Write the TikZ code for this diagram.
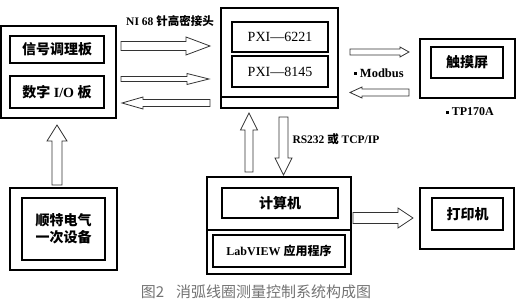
\documentclass[tikz,border=0pt]{standalone}
\usepackage{fontspec}
\setmainfont{Liberation Serif}
\newfontfamily\cjk{Noto Sans CJK SC}
\usetikzlibrary{calc}
\newcommand{\zh}[1]{{\cjk #1}}
\newcommand{\sqbul}{\rule[0.2em]{2.6pt}{2.6pt}}

\begin{document}
\begin{tikzpicture}[x=1pt, y=-1pt,
  box/.style 2 args={draw, line width=2pt, inner sep=0pt, outer sep=0pt,
    minimum width=#1pt, minimum height=#2pt},
  lbl/.style={font=\fontsize{14}{17}\selectfont\bfseries, align=center},
  pxil/.style={font=\fontsize{14}{17}\selectfont},
  small/.style={font=\fontsize{11.5}{13}\selectfont\bfseries},
  capt/.style={font=\fontsize{15}{17}\selectfont\cjk, text=black!55},
  blk/.style n args={3}{draw=black!80, line width=0.8pt, fill=white,
    to path={let \p1=(\tikztostart), \p2=(\tikztotarget),
      \n1={atan2(\y2-\y1,\x2-\x1)} in
      ($(\p1)+(\n1+90:#1)$) -- ($(\p2)+(\n1+180:#3)+(\n1+90:#1)$)
      -- ($(\p2)+(\n1+180:#3)+(\n1+90:#2)$) -- (\p2)
      -- ($(\p2)+(\n1+180:#3)+(\n1-90:#2)$)
      -- ($(\p2)+(\n1+180:#3)+(\n1-90:#1)$)
      -- ($(\p1)+(\n1-90:#1)$) -- cycle}}]
  \useasboundingbox (0,0) rectangle (521,306);

  % left: conditioning and I/O boards
  \node[box={115}{92}] (cond) at (58.5,72) {};
  \node[box={94}{27}, lbl] (sig) at (57,49.5) {\zh{信号调理板}};
  \node[box={94}{32}, lbl] (dio) at (57,92) {\zh{数字} I/O \zh{板}};

  % PXI chassis
  \node[box={117}{100}] (pxi) at (279.5,58) {};
  \node[box={96}{30}, pxil] (p6221) at (280,37) {PXI—6221};
  \node[box={96}{31}, pxil] (p8145) at (280,71.5) {PXI—8145};
  \draw[line width=2pt] ($(pxi.south west)+(0,-11)$) -- ($(pxi.south east)+(0,-11)$);

  % touch screen
  \node[box={95}{59}] (touch) at (467.5,68.5) {};
  \node[box={72}{31}, lbl] (scr) at (467,62.5) {\zh{触摸屏}};

  % computer
  \node[box={144}{97}] (pc) at (279,225.5) {};
  \node[box={116}{30}, lbl] (calc) at (280,203) {\zh{计算机}};
  \node[box={132}{32}, small, font=\fontsize{12}{14}\selectfont\bfseries] (lab) at (279,251) {LabVIEW \zh{应用程序}};
  \draw[line width=2pt] ($(pc.north west)+(0,53)$) -- ($(pc.north east)+(0,53)$);

  % printer
  \node[box={94}{61}] (prn) at (467,218.5) {};
  \node[box={71}{32}, lbl] (prnin) at (467.5,214) {\zh{打印机}};

  % primary equipment
  \node[box={107}{82}] (src) at (63.5,229) {};
  \node[box={83}{62}, lbl] (srcin) at (63.5,229) {\zh{顺特电气}\\\zh{一次设备}};

  % Block arrows
  \draw[blk={4.5pt}{9pt}{24pt}] ($(cond.north east)+(5,20)$) to ($(pxi.north west)+(-11,38)$);
  \draw[blk={2.5pt}{5.5pt}{22pt}] ($(cond.north east)+(5,53)$) to ($(pxi.north west)+(-12,71)$);
  \draw[blk={3.5pt}{6pt}{21pt}] ($(pxi.north west)+(-11,95)$) to ($(cond.north east)+(6,77)$);
  \draw[blk={3pt}{5pt}{9pt}] ($(pxi.north east)+(12,44)$) to ($(touch.north west)+(-11,13)$);
  \draw[blk={3.5pt}{5.5pt}{12pt}] ($(touch.north west)+(-11,53.5)$) to ($(pxi.north east)+(12,84.5)$);
  \draw[blk={4pt}{8.5pt}{17pt}] ($(pc.north west)+(42,-5)$) to ($(pxi.south west)+(28,5)$);
  \draw[blk={4.5pt}{8.5pt}{17pt}] ($(pxi.south west)+(62.5,9)$) to ($(pc.north west)+(76.5,-2)$);
  \draw[blk={5.5pt}{10pt}{15pt}] ($(pc.north east)+(2,41)$) to ($(prn.north west)+(-7,30)$);
  \draw[blk={5pt}{10pt}{16pt}] ($(src.north west)+(47,-3)$) to ($(cond.south west)+(56,7)$);

  % Labels
  \node[small] (ni) at (170,21) {NI 68 \zh{针高密接头}};
  \node[small, font=\fontsize{12.5}{14}\selectfont\bfseries] (mb) at (379,73) {\sqbul\ Modbus};
  \node[small, font=\fontsize{12}{14}\selectfont\bfseries] (tp) at (470,112) {\sqbul\ TP170A};
  \node[small, anchor=west] (rs) at (289,139) {RS232 \zh{或} TCP/IP};
  \node[capt] (fig) at (256,292) {图2\hspace{12pt}消弧线圈测量控制系统构成图};
\end{tikzpicture}
\end{document}
